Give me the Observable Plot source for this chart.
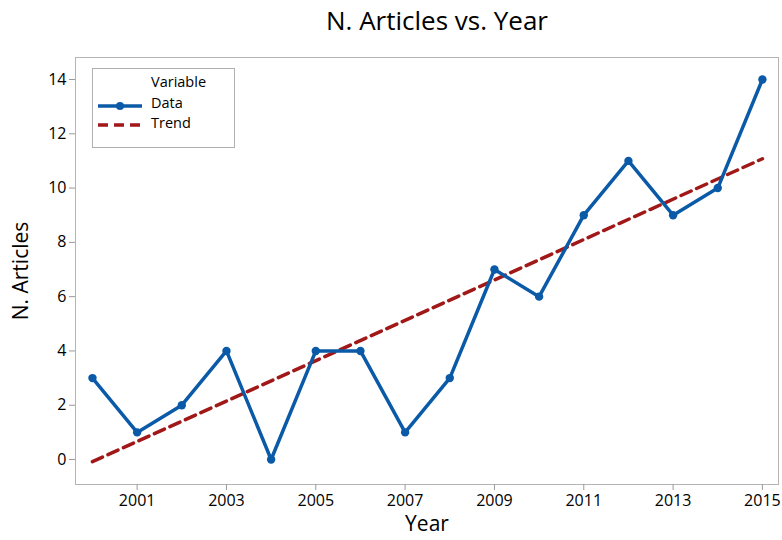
<!DOCTYPE html>
<html><head><meta charset="utf-8">
<script src="https://cdn.jsdelivr.net/npm/d3@7"></script>
<script src="https://cdn.jsdelivr.net/npm/@observablehq/plot@0.6"></script>
<style>
body{margin:0;background:#fff;font-family:"Open Sans",sans-serif;}
#wrap{position:relative;width:782px;height:540px;}
#title{height:45px;width:782px;text-align:center;font-size:26px;line-height:40px;color:#000;padding-left:92px;box-sizing:border-box;}
#legend{position:absolute;left:92px;top:68px;width:143px;height:80px;border:1px solid #b0b0b0;box-sizing:border-box;font-size:14.5px;background:#fff;}
#legend div{position:absolute;left:58px;line-height:16px;}
#legend svg{position:absolute;left:0;top:0;}
</style></head>
<body>
<div id="wrap">
<div id="title">N. Articles vs. Year</div>
<div id="chart"></div>
<div id="legend"></div>
</div>
<script>
const years = [2000,2001,2002,2003,2004,2005,2006,2007,2008,2009,2010,2011,2012,2013,2014,2015];
const articles = [3,1,2,4,0,4,4,1,3,7,6,9,11,9,10,14];
const trendYears = [2000, 2015];
const trendValues = [-0.08, 11.08];
const xTicks = [2001,2003,2005,2007,2009,2011,2013,2015];
const yTicks = [0,2,4,6,8,10,12,14];
const dataColor = "#0b5aa8";
const trendColor = "#a01818";

const data = years.map((y,i)=>({year:y, value:articles[i]}));
const trend = trendYears.map((y,i)=>({year:y, value:trendValues[i]}));

const plot = Plot.plot({
  width: 782,
  height: 495,
  marginLeft: 75,
  marginRight: 4,
  marginTop: 12,
  marginBottom: 56,
  style:{fontFamily:"Open Sans, sans-serif", background:"#fff"},
  x:{domain:[2000-0.38, 2015.36]},
  y:{domain:[-0.92, 14.81]},
  marks:[
    Plot.frame({stroke:"#b4b4b4"}),
    Plot.axisX({ticks:xTicks, tickFormat:d=>String(d), tickSize:6, tickPadding:4, fontSize:16, stroke:"#999", color:"#000", label:null}),
    Plot.axisY({ticks:yTicks, tickSize:6, tickPadding:3, fontSize:16, stroke:"#999", color:"#000", label:null}),
    Plot.text(["Year"], {frameAnchor:"bottom", dy:46, fontSize:21, fill:"#000", textAnchor:"middle"}),
    Plot.text(["N. Articles"], {frameAnchor:"left", dx:-54, rotate:-90, fontSize:21, fill:"#000", textAnchor:"middle"}),
    Plot.line(trend, {x:"year", y:"value", stroke:trendColor, strokeWidth:3.5, strokeDasharray:"11,6"}),
    Plot.line(data, {x:"year", y:"value", stroke:dataColor, strokeWidth:3.5}),
    Plot.dot(data, {x:"year", y:"value", fill:dataColor, r:4.2})
  ]
});
document.getElementById("chart").appendChild(plot);

const lg = document.getElementById("legend");
lg.innerHTML = `
<svg width="143" height="80">
<line x1="5" x2="49" y1="37" y2="37" stroke="${dataColor}" stroke-width="3.5"/>
<circle cx="27" cy="37" r="4" fill="${dataColor}"/>
<line x1="5" x2="49" y1="56" y2="56" stroke="${trendColor}" stroke-width="3.5" stroke-dasharray="10,6"/>
</svg>
<div style="top:5px">Variable</div>
<div style="top:26px">Data</div>
<div style="top:46px">Trend</div>`;
</script>
</body></html>
